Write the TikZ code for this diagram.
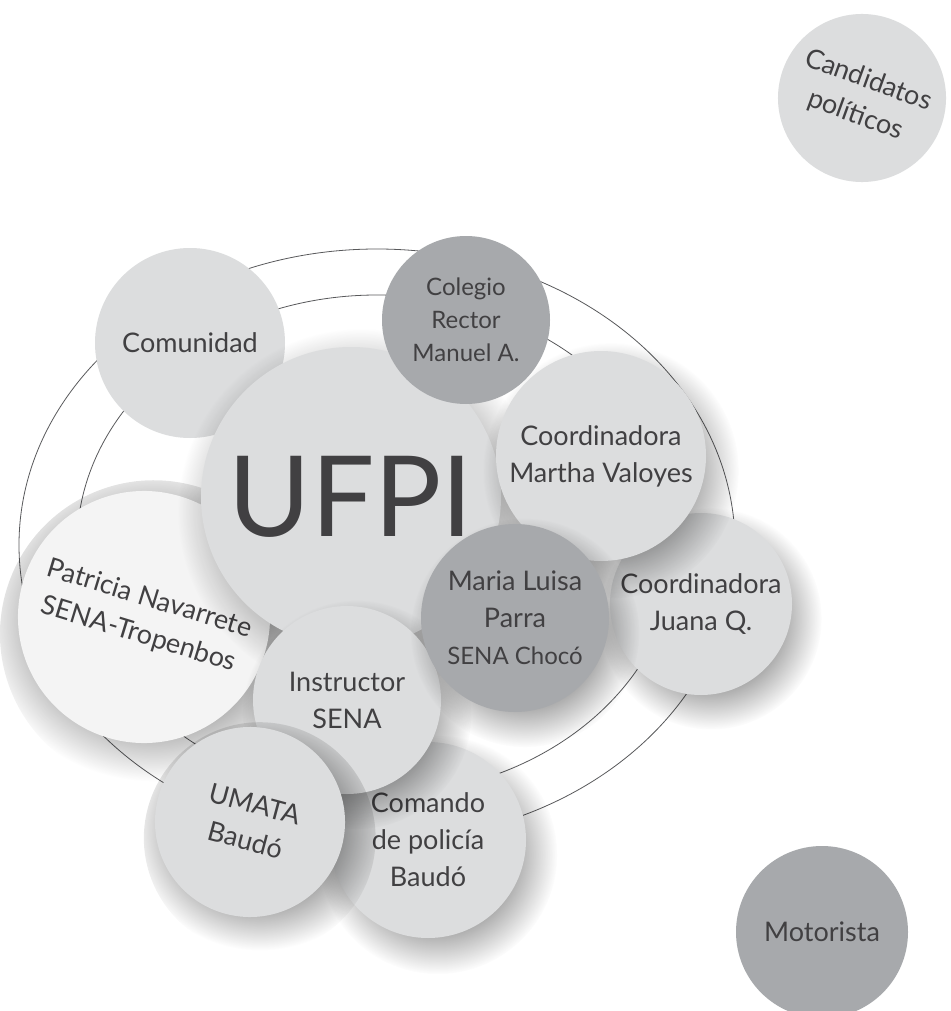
\documentclass[tikz,border=0pt]{standalone}
\usepackage{fontspec}
\setmainfont{Lato}
\usetikzlibrary{shadows,fadings}
\definecolor{ink}{HTML}{414042}
\definecolor{orbit}{HTML}{58595B}
\definecolor{soft}{HTML}{DCDDDE}
\definecolor{deep}{HTML}{A7A9AC}
\definecolor{pale}{HTML}{F4F4F4}
\pgfdeclareradialshading{softrimshade}{\pgfpointorigin}{color(0bp)=(white); color(13bp)=(white); color(25bp)=(black); color(50bp)=(black)}
\pgfdeclarefading{softrim}{\pgfuseshading{softrimshade}}
\tikzset{
  actor/.style={circle,inner sep=0pt,align=center,text=ink,fill=soft,font=\fontsize{27}{37}\selectfont},
  actord/.style={actor,fill=deep},
  actorp/.style={actor,fill=pale},
  shd/.style={circular drop shadow={shadow xshift=8pt,shadow yshift=-12pt,shadow scale=1.22,path fading=softrim,fill=black,opacity=.45}},
  ring/.style={draw=orbit,line width=.8pt},
}

\begin{document}
\begin{tikzpicture}[x=1pt,y=1pt]
  \fill[white] (0,0) rectangle (950,-1011);
  \useasboundingbox (0,0) rectangle (950,-1011);
  % the two rings
  \draw[ring] (377,-545) ellipse [x radius=358,y radius=296];
  \draw[ring] (377,-545) ellipse [x radius=300,y radius=250];
  % actors, back to front
  \node[actor,minimum size=190pt] (comunidad) at (190,-343) {Comunidad};
  \node[actor,shd,minimum size=182pt] (juana) at (701,-604) {Coordinadora\\Juana Q.};
  \node[actor,shd,minimum size=196pt] (comando) at (428,-840) {Comando\\de policía\\Baudó};
  \node[actorp,shd,minimum size=252pt,rotate=-17] (patricia) at (144,-617) {Patricia Navarrete\\SENA-Tropenbos};
  \node[actor,shd,minimum size=300pt,font=\fontsize{112}{112}\selectfont] (ufpi) at (351,-497) {UFPI};
  \node[actor,shd,minimum size=210pt] (martha) at (601,-456) {Coordinadora\\Martha Valoyes};
  \node[actord,minimum size=168pt,font=\fontsize{24}{33}\selectfont] (colegio) at (466,-320) {Colegio\\Rector\\Manuel A.};
  \node[actor,shd,minimum size=188pt] (instructor) at (347,-700) {Instructor\\SENA};
  \node[actord,shd,minimum size=188pt] (parra) at (515,-618) {Maria Luisa\\Parra\\{\fontsize{24}{33}\selectfont SENA Chocó}};
  \node[actor,shd,minimum size=190pt,rotate=-15] (umata) at (250,-822) {UMATA\\Baudó};
  % outside the rings
  \node[actor,minimum size=168pt,rotate=-20] (candidatos) at (862,-98) {Candidatos\\políticos};
  \node[actord,minimum size=172pt] (motorista) at (822,-932) {Motorista};
\end{tikzpicture}
\end{document}
